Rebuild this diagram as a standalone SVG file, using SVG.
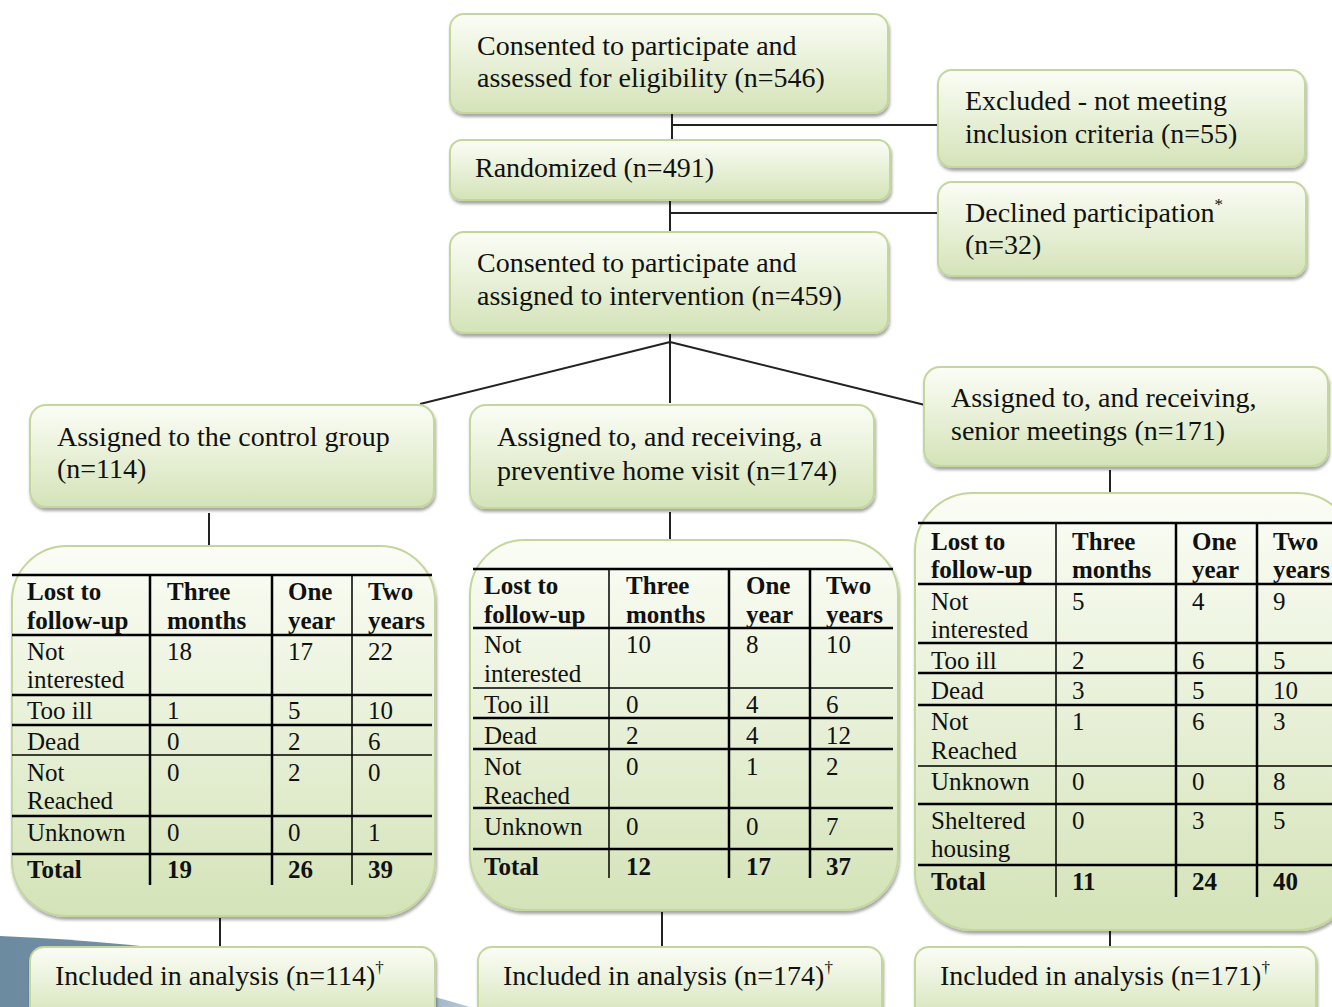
<svg xmlns="http://www.w3.org/2000/svg" width="1332" height="1007" viewBox="0 0 1332 1007">
<defs>
<linearGradient id="g" x1="0" y1="0" x2="0" y2="1">
<stop offset="0" stop-color="#fbfdf6"/>
<stop offset="1" stop-color="#d4e3b8"/>
</linearGradient>
<linearGradient id="blue" x1="0" y1="0" x2="1" y2="0">
<stop offset="0" stop-color="#6c8aa0"/>
<stop offset="0.8" stop-color="#7d98ad"/>
<stop offset="1" stop-color="#b9c9d6"/>
</linearGradient>
<filter id="sh" x="-5%" y="-5%" width="110%" height="120%">
<feDropShadow dx="1" dy="3" stdDeviation="1.5" flood-color="#000" flood-opacity="0.35"/>
</filter>
<style>
.box{fill:url(#g);stroke:#c3d69b;stroke-width:2;filter:url(#sh)}
.t{font-family:"Liberation Serif","Times New Roman",serif;font-size:28px;fill:#111}
.tt{font-family:"Liberation Serif","Times New Roman",serif;font-size:25px;fill:#111}
.b{font-weight:bold}
.c{stroke:#222;stroke-width:2;fill:none}
.hl{stroke:#000;stroke-width:2.5}
.hn{stroke:#000;stroke-width:1.5}
.sup{font-size:17px}
</style>
</defs>
<path d="M0,936 C150,942 330,965 470,1007 L0,1007 Z" fill="url(#blue)"/>
<g id="connectors">
<path class="c" d="M672,113 V140 M672,125 H938"/>
<path class="c" d="M670,200 V232 M670,213 H938"/>
<path class="c" d="M670,333 V403 M670,342 L420,404 M670,342 L925,405"/>
<path class="c" d="M209,513 V546 M670,512 V540 M1110,470 V493"/>
<path class="c" d="M220,918 V946 M662,912 V946 M1110,930 V946"/>
</g>
<g id="n-eligibility">
<rect class="box" x="450" y="14" width="438" height="99" rx="14"/>
<text class="t" x="477" y="55">Consented to participate and</text>
<text class="t" x="477" y="87">assessed for eligibility (n=546)</text>
</g>
<g id="n-excluded">
<rect class="box" x="938" y="70" width="367" height="97" rx="14"/>
<text class="t" x="965" y="110">Excluded - not meeting</text>
<text class="t" x="965" y="143">inclusion criteria (n=55)</text>
</g>
<g id="n-randomized">
<rect class="box" x="450" y="140" width="440" height="60" rx="12"/>
<text class="t" x="475" y="177">Randomized (n=491)</text>
</g>
<g id="n-declined">
<rect class="box" x="938" y="182" width="368" height="94" rx="14"/>
<text class="t" x="965" y="222">Declined participation<tspan class="sup" dy="-12">*</tspan></text>
<text class="t" x="965" y="254">(n=32)</text>
</g>
<g id="n-assigned">
<rect class="box" x="450" y="232" width="438" height="101" rx="14"/>
<text class="t" x="477" y="272">Consented to participate and</text>
<text class="t" x="477" y="305">assigned to intervention (n=459)</text>
</g>
<g id="n-control">
<rect class="box" x="30" y="405" width="404" height="102" rx="16"/>
<text class="t" x="57" y="446">Assigned to the control group</text>
<text class="t" x="57" y="478">(n=114)</text>
</g>
<g id="n-homevisit">
<rect class="box" x="470" y="405" width="404" height="103" rx="16"/>
<text class="t" x="497" y="446">Assigned to, and receiving, a</text>
<text class="t" x="497" y="480">preventive home visit (n=174)</text>
</g>
<g id="n-senior">
<rect class="box" x="924" y="367" width="404" height="99" rx="16"/>
<text class="t" x="951" y="407">Assigned to, and receiving,</text>
<text class="t" x="951" y="440">senior meetings (n=171)</text>
</g>
<g id="n-table-control">
<rect class="box" x="12" y="546" width="423" height="370" rx="55"/>
<g>
<line class="hl" x1="12" y1="575" x2="432" y2="575"/>
<line class="hl" x1="12" y1="635" x2="432" y2="635"/>
<line class="hl" x1="12" y1="695" x2="432" y2="695"/>
<line class="hl" x1="12" y1="725" x2="432" y2="725"/>
<line class="hn" x1="12" y1="755" x2="432" y2="755"/>
<line class="hl" x1="12" y1="816" x2="432" y2="816"/>
<line class="hl" x1="12" y1="854" x2="432" y2="854"/>
<line class="hl" x1="150" y1="575" x2="150" y2="885"/>
<line class="hl" x1="272" y1="575" x2="272" y2="885"/>
<line class="hn" x1="352" y1="575" x2="352" y2="885"/>
</g>
<text class="tt b" x="27" y="600">Lost to</text><text class="tt b" x="27" y="629">follow-up</text>
<text class="tt b" x="167" y="600">Three</text><text class="tt b" x="167" y="629">months</text>
<text class="tt b" x="288" y="600">One</text><text class="tt b" x="288" y="629">year</text>
<text class="tt b" x="368" y="600">Two</text><text class="tt b" x="368" y="629">years</text>
<text class="tt" x="27" y="660">Not</text><text class="tt" x="27" y="688">interested</text>
<text class="tt" x="167" y="660">18</text><text class="tt" x="288" y="660">17</text><text class="tt" x="368" y="660">22</text>
<text class="tt" x="27" y="719">Too ill</text><text class="tt" x="167" y="719">1</text><text class="tt" x="288" y="719">5</text><text class="tt" x="368" y="719">10</text>
<text class="tt" x="27" y="750">Dead</text><text class="tt" x="167" y="750">0</text><text class="tt" x="288" y="750">2</text><text class="tt" x="368" y="750">6</text>
<text class="tt" x="27" y="781">Not</text><text class="tt" x="27" y="809">Reached</text>
<text class="tt" x="167" y="781">0</text><text class="tt" x="288" y="781">2</text><text class="tt" x="368" y="781">0</text>
<text class="tt" x="27" y="841">Unknown</text><text class="tt" x="167" y="841">0</text><text class="tt" x="288" y="841">0</text><text class="tt" x="368" y="841">1</text>
<text class="tt b" x="27" y="878">Total</text><text class="tt b" x="167" y="878">19</text><text class="tt b" x="288" y="878">26</text><text class="tt b" x="368" y="878">39</text>
</g>
<g id="n-table-homevisit">
<rect class="box" x="470" y="540" width="428" height="370" rx="55"/>
<g>
<line class="hl" x1="473" y1="569" x2="893" y2="569"/>
<line class="hl" x1="473" y1="628" x2="893" y2="628"/>
<line class="hn" x1="473" y1="688" x2="893" y2="688"/>
<line class="hl" x1="473" y1="718" x2="893" y2="718"/>
<line class="hl" x1="473" y1="749" x2="893" y2="749"/>
<line class="hl" x1="473" y1="808" x2="893" y2="808"/>
<line class="hl" x1="473" y1="849" x2="893" y2="849"/>
<line class="hn" x1="609" y1="569" x2="609" y2="878"/>
<line class="hl" x1="729" y1="569" x2="729" y2="878"/>
<line class="hl" x1="810" y1="569" x2="810" y2="878"/>
</g>
<text class="tt b" x="484" y="594">Lost to</text><text class="tt b" x="484" y="623">follow-up</text>
<text class="tt b" x="626" y="594">Three</text><text class="tt b" x="626" y="623">months</text>
<text class="tt b" x="746" y="594">One</text><text class="tt b" x="746" y="623">year</text>
<text class="tt b" x="826" y="594">Two</text><text class="tt b" x="826" y="623">years</text>
<text class="tt" x="484" y="653">Not</text><text class="tt" x="484" y="682">interested</text>
<text class="tt" x="626" y="653">10</text><text class="tt" x="746" y="653">8</text><text class="tt" x="826" y="653">10</text>
<text class="tt" x="484" y="713">Too ill</text><text class="tt" x="626" y="713">0</text><text class="tt" x="746" y="713">4</text><text class="tt" x="826" y="713">6</text>
<text class="tt" x="484" y="744">Dead</text><text class="tt" x="626" y="744">2</text><text class="tt" x="746" y="744">4</text><text class="tt" x="826" y="744">12</text>
<text class="tt" x="484" y="775">Not</text><text class="tt" x="484" y="804">Reached</text>
<text class="tt" x="626" y="775">0</text><text class="tt" x="746" y="775">1</text><text class="tt" x="826" y="775">2</text>
<text class="tt" x="484" y="835">Unknown</text><text class="tt" x="626" y="835">0</text><text class="tt" x="746" y="835">0</text><text class="tt" x="826" y="835">7</text>
<text class="tt b" x="484" y="875">Total</text><text class="tt b" x="626" y="875">12</text><text class="tt b" x="746" y="875">17</text><text class="tt b" x="826" y="875">37</text>
</g>
<g id="n-table-senior">
<rect class="box" x="915" y="493" width="440" height="437" rx="58"/>
<g>
<line class="hl" x1="918" y1="523" x2="1332" y2="523"/>
<line class="hl" x1="918" y1="584" x2="1332" y2="584"/>
<line class="hl" x1="918" y1="643" x2="1332" y2="643"/>
<line class="hl" x1="918" y1="673" x2="1332" y2="673"/>
<line class="hl" x1="918" y1="705" x2="1332" y2="705"/>
<line class="hn" x1="918" y1="766" x2="1332" y2="766"/>
<line class="hl" x1="918" y1="804" x2="1332" y2="804"/>
<line class="hl" x1="918" y1="865" x2="1332" y2="865"/>
<line class="hn" x1="1056" y1="523" x2="1056" y2="897"/>
<line class="hl" x1="1176" y1="523" x2="1176" y2="897"/>
<line class="hl" x1="1257" y1="523" x2="1257" y2="897"/>
</g>
<text class="tt b" x="931" y="550">Lost to</text><text class="tt b" x="931" y="578">follow-up</text>
<text class="tt b" x="1072" y="550">Three</text><text class="tt b" x="1072" y="578">months</text>
<text class="tt b" x="1192" y="550">One</text><text class="tt b" x="1192" y="578">year</text>
<text class="tt b" x="1273" y="550">Two</text><text class="tt b" x="1273" y="578">years</text>
<text class="tt" x="931" y="610">Not</text><text class="tt" x="931" y="638">interested</text>
<text class="tt" x="1072" y="610">5</text><text class="tt" x="1192" y="610">4</text><text class="tt" x="1273" y="610">9</text>
<text class="tt" x="931" y="669">Too ill</text><text class="tt" x="1072" y="669">2</text><text class="tt" x="1192" y="669">6</text><text class="tt" x="1273" y="669">5</text>
<text class="tt" x="931" y="699">Dead</text><text class="tt" x="1072" y="699">3</text><text class="tt" x="1192" y="699">5</text><text class="tt" x="1273" y="699">10</text>
<text class="tt" x="931" y="730">Not</text><text class="tt" x="931" y="759">Reached</text>
<text class="tt" x="1072" y="730">1</text><text class="tt" x="1192" y="730">6</text><text class="tt" x="1273" y="730">3</text>
<text class="tt" x="931" y="790">Unknown</text><text class="tt" x="1072" y="790">0</text><text class="tt" x="1192" y="790">0</text><text class="tt" x="1273" y="790">8</text>
<text class="tt" x="931" y="829">Sheltered</text><text class="tt" x="931" y="857">housing</text>
<text class="tt" x="1072" y="829">0</text><text class="tt" x="1192" y="829">3</text><text class="tt" x="1273" y="829">5</text>
<text class="tt b" x="931" y="890">Total</text><text class="tt b" x="1072" y="890">11</text><text class="tt b" x="1192" y="890">24</text><text class="tt b" x="1273" y="890">40</text>
</g>
<g id="n-included-control">
<rect class="box" x="30" y="947" width="405" height="75" rx="14"/>
<text class="t" x="55" y="985">Included in analysis (n=114)<tspan class="sup" dy="-12">†</tspan></text>
</g>
<g id="n-included-homevisit">
<rect class="box" x="478" y="947" width="404" height="75" rx="14"/>
<text class="t" x="503" y="985">Included in analysis (n=174)<tspan class="sup" dy="-12">†</tspan></text>
</g>
<g id="n-included-senior">
<rect class="box" x="915" y="947" width="401" height="75" rx="14"/>
<text class="t" x="940" y="985">Included in analysis (n=171)<tspan class="sup" dy="-12">†</tspan></text>
</g>
</svg>
